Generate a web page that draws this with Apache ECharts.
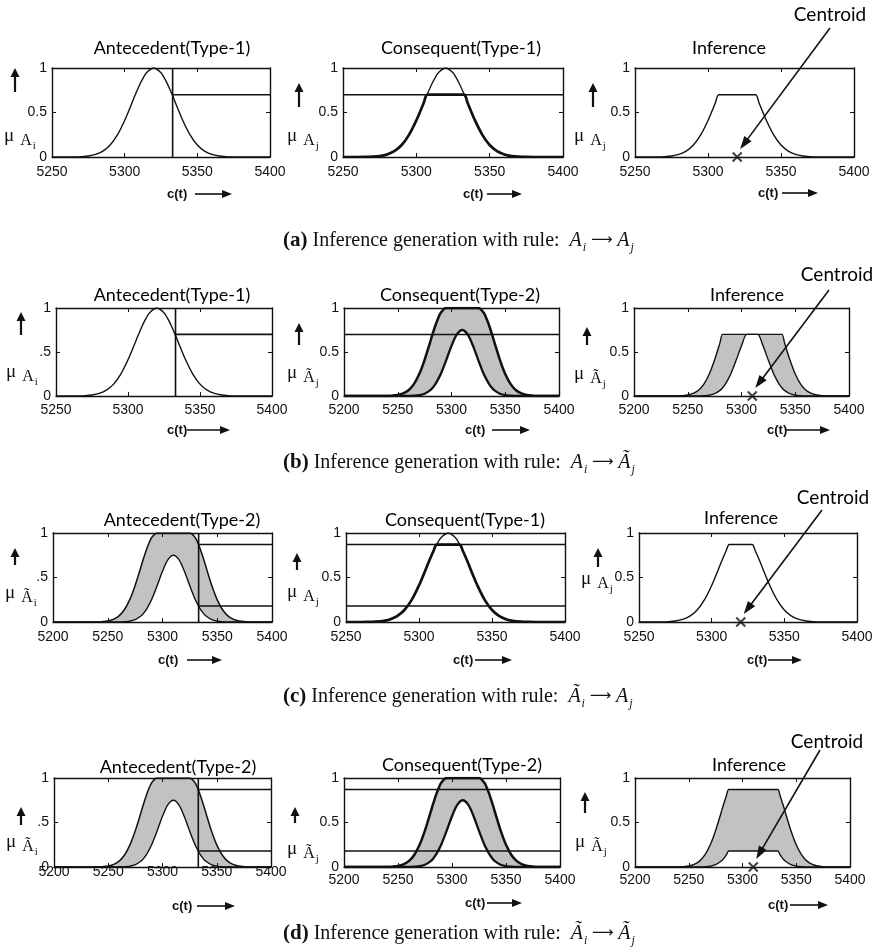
<!DOCTYPE html>
<html>
<head>
<meta charset="utf-8">
<script src="https://cdn.jsdelivr.net/npm/echarts@6.0.0/dist/echarts.min.js"></script>
<style>html,body{margin:0;padding:0;background:#fff;}#chart{width:878px;height:952px;}</style>
</head>
<body>
<div id="chart"></div>
<script>
// ===== values =====
// Type-1 Gaussian membership function (centre 5320)
const t1X  = [5250,5255,5260,5265,5270,5275,5280,5285,5290,5295,5300,5305,5307.3,5310,5312.1,5315,5320,5325,5327.9,5330,5332.7,5335,5340,5345,5350,5355,5360,5365,5370,5375,5380,5385,5390,5395,5400];
const t1Mu = [0,0,0,0.001,0.004,0.011,0.029,0.066,0.135,0.249,0.411,0.607,0.70,0.801,0.87,0.946,1,0.946,0.87,0.801,0.70,0.607,0.411,0.249,0.135,0.066,0.029,0.011,0.004,0.001,0,0,0,0,0];
// Interval type-2 membership function (upper / lower)
const t2X     = [5200,5205,5210,5215,5220,5225,5230,5235,5240,5245,5250,5255,5260,5265,5270,5275,5280,5282.3,5285,5287.1,5290,5295,5300,5305,5310,5315,5320,5325,5330,5332.9,5335,5337.7,5340,5345,5350,5355,5360,5365,5370,5375,5380,5385,5390,5395,5400];
const t2Upper = [0,0,0,0,0,0,0,0,0.001,0.004,0.011,0.029,0.066,0.135,0.249,0.411,0.607,0.70,0.801,0.87,0.946,1,1,1,1,1,1,1,0.946,0.87,0.801,0.70,0.607,0.411,0.249,0.135,0.066,0.029,0.011,0.004,0.001,0,0,0,0];
const t2Lower = [0,0,0,0,0,0,0,0,0,0,0,0,0,0.003,0.009,0.026,0.064,0.091,0.135,0.18,0.25,0.405,0.57,0.70,0.75,0.70,0.57,0.405,0.25,0.18,0.135,0.091,0.064,0.026,0.009,0.003,0,0,0,0,0,0,0,0,0];
// crisp input, firing strengths, centroids
const inputX = 5333;
const fireT1 = 0.7;
const fireUpper = 0.87;
const fireLower = 0.18;
const centroidX = [5320, 5310, 5320, 5310];
// tick labels
const xTickValues = [5200, 5250, 5300, 5350, 5400];
const xTickLabels = ['5200', '5250', '5300', '5350', '5400'];
const yTickValues = [0, 0.5, 1];
const yTickLabels = ['0', '0.5', '1'];
const yTickLabelsShort = ['0', '.5', '1'];
// texts
const panelTitles = ['Antecedent(Type-1)','Consequent(Type-1)','Inference',
                     'Antecedent(Type-1)','Consequent(Type-2)','Inference',
                     'Antecedent(Type-2)','Consequent(Type-1)','Inference',
                     'Antecedent(Type-2)','Consequent(Type-2)','Inference'];
const yVarBase = ['A','A','A','A','Ã','Ã','Ã','A','A','Ã','Ã','Ã'];
const yVarSub  = ['i','j','j','i','j','j','i','j','j','i','j','j'];
const captionTags = ['(a)','(b)','(c)','(d)'];
const captionText = 'Inference generation with rule:';
const ruleLhs = ['A','A','Ã','Ã'];
const ruleRhs = ['A','Ã','A','Ã'];
const centroidText = 'Centroid';
const xAxisText = 'c(t)';

// ===== layout =====
const panels = [
 {box:[52,68,218,89],  xmin:5250, kind:'antT1', half:'long',  xm:8},
 {box:[343,68,220,89], xmin:5250, kind:'conT1', levels:[fireT1], clip:fireT1, half:'long', xm:8},
 {box:[635,68,219,89], xmin:5250, kind:'infT1', clip:fireT1, cen:0, half:'long', xm:8},
 {box:[56,308,216,88], xmin:5250, kind:'antT1', half:'short', xm:7},
 {box:[344,308,215,88],xmin:5200, kind:'conT2', levels:[fireT1], half:'long', xm:7},
 {box:[634,308,215,88],xmin:5200, kind:'infT2', up:fireT1, lo:fireT1, cen:1, half:'long', xm:7},
 {box:[53,533,219,89], xmin:5200, kind:'antT2', half:'short', xm:8},
 {box:[346,533,219,89],xmin:5250, kind:'conT1', levels:[fireUpper,fireLower], clip:fireUpper, half:'long', xm:8},
 {box:[639,533,218,89],xmin:5250, kind:'infT1', clip:fireUpper, cen:2, half:'long', xm:8},
 {box:[54,778,217,89], xmin:5200, kind:'antT2', half:'short', xm:-2},
 {box:[344,778,216,89],xmin:5200, kind:'conT2', levels:[fireUpper,fireLower], half:'long', xm:6},
 {box:[635,778,215,89],xmin:5200, kind:'infT2', up:fireUpper, lo:fireLower, cen:3, half:'long', xm:6}
];
const titlePos = [[172,48],[461,48],[729,48],[172,295],[460,295],[747,295],[182,520],[465,520],[741,518],[178,767],[462,765],[749,765]];
// [arrowX, arrowTop, arrowBottom, muX, muY]
const yLabPos = [[15,68,92,4,137],[299,83,107,287,137],[593,83,107,574,137],[21,312,335,6,373],[299,323,345,287,374],[587,327,345,574,375],[15,548,565,5,594],[297,553,570,287,593],[598,548,567,581,580],[21,807,825,6,843],[295,807,823,287,850],[585,792,813,575,843]];
// [textX, y, arrowX1, arrowX2]
const ctPos = [[167,194,195,232],[463,194,487,522],[758,193,782,818],[167,430,187,230],[465,430,492,530],[767,430,785,830],[158,660,187,222],[453,660,475,512],[747,660,768,802],[172,906,197,235],[465,903,487,522],[768,905,790,828]];
// per row: text centre, arrow start
const centroidLayout = [{t:[830,15], s:[830,28]},{t:[837,275], s:[829,290]},{t:[833,498], s:[822,510]},{t:[827,742], s:[820,750]}];
const captionPos = [[283,242],[283,464],[283,698],[283,935]];

const INK = '#111';
const GRAY = '#c2c2c2';
const SANS = 'Liberation Sans';
const SERIF = 'Liberation Serif';
const TITLEF = 'Lato';

const pts = (xs, ys) => xs.map((x, i) => [x, ys[i]]);
const clipPts = (xs, ys, lv) => xs.map((x, i) => [x, Math.min(ys[i], lv)]);

const grids = [], xAxes = [], yAxes = [], series = [];
panels.forEach((p, g) => {
  const [l, t, w, h] = p.box;
  grids.push({left:l, top:t, width:w, height:h, show:false, containLabel:false, outerBoundsMode:'none'});
  const base = {gridIndex:g, z:6, type:'value', splitLine:{show:false},
    axisLine:{show:true, onZero:false, lineStyle:{color:INK, width:1.4}},
    axisTick:{show:true, inside:true, length:4, lineStyle:{color:INK, width:1}}};
  const xlab = {show:true, margin:p.xm, fontFamily:SANS, fontSize:14, color:INK,
    formatter: v => xTickLabels[xTickValues.indexOf(v)]};
  const ylabArr = p.half === 'short' ? yTickLabelsShort : yTickLabels;
  const ylab = {show:true, margin:5, fontFamily:SANS, fontSize:14, color:INK,
    formatter: v => ylabArr[yTickValues.indexOf(v)]};
  xAxes.push(Object.assign({}, base, {min:p.xmin, max:5400, interval:50, position:'bottom', axisLabel:xlab}));
  xAxes.push(Object.assign({}, base, {min:p.xmin, max:5400, interval:50, position:'top', axisLabel:{show:false}}));
  yAxes.push(Object.assign({}, base, {min:0, max:1, interval:0.5, position:'left', axisLabel:ylab}));
  yAxes.push(Object.assign({}, base, {min:0, max:1, interval:0.5, position:'right', axisLabel:{show:false}}));

  const ai = 2 * g;
  const curve = (data, width, extra) => series.push(Object.assign({type:'line', xAxisIndex:ai, yAxisIndex:ai,
    data, symbol:'none', showSymbol:false, smooth:0.3, silent:true, animation:false,
    lineStyle:{color:INK, width}}, extra || {}));
  const straight = (data, width) => curve(data, width, {smooth:false});
  const area = c => ({areaStyle:{color:c, opacity:1}});

  if (p.kind === 'antT1') {
    curve(pts(t1X, t1Mu), 1.4);
    straight([[inputX, 0], [inputX, 1]], 1.6);
    straight([[inputX, fireT1], [5400, fireT1]], 1.6);
  } else if (p.kind === 'conT1') {
    curve(pts(t1X, t1Mu), 1.3);
    curve(clipPts(t1X, t1Mu, p.clip), 2.7);
    p.levels.forEach(lv => straight([[p.xmin, lv], [5400, lv]], 1.5));
  } else if (p.kind === 'infT1') {
    curve(clipPts(t1X, t1Mu, p.clip), 1.4);
  } else if (p.kind === 'conT2') {
    curve(pts(t2X, t2Upper), 2.5, area(GRAY));
    curve(pts(t2X, t2Lower), 2.3, area('#ffffff'));
    p.levels.forEach(lv => straight([[p.xmin, lv], [5400, lv]], 1.5));
  } else if (p.kind === 'antT2') {
    curve(pts(t2X, t2Upper), 1.5, area(GRAY));
    curve(pts(t2X, t2Lower), 1.4, area('#ffffff'));
    straight([[inputX, 0], [inputX, 1]], 1.6);
    straight([[inputX, fireUpper], [5400, fireUpper]], 1.6);
    straight([[inputX, fireLower], [5400, fireLower]], 1.6);
  } else if (p.kind === 'infT2') {
    curve(clipPts(t2X, t2Upper, p.up), 1.4, area(GRAY));
    curve(clipPts(t2X, t2Lower, p.lo), 1.4, area('#ffffff'));
  }
  if (p.cen !== undefined) {
    series.push({type:'scatter', xAxisIndex:ai, yAxisIndex:ai, data:[[centroidX[p.cen], 0]],
      symbol:'path://M0,0L10,10M10,0L0,10', symbolSize:9, silent:true, animation:false, clip:false, z:8,
      itemStyle:{color:INK, borderColor:INK, borderWidth:2}});
  }
});

const chart = echarts.init(document.getElementById('chart'), null, {renderer:'canvas'});
chart.setOption({animation:false, backgroundColor:'#fff', grid:grids, xAxis:xAxes, yAxis:yAxes, series});

// ===== annotations =====
const gfx = [];
const txt = (x, y, text, style) => gfx.push({type:'text', x, y, silent:true, z:100,
  style:Object.assign({text, fill:INK, textAlign:'left', textVerticalAlign:'middle', align:'left', verticalAlign:'middle'}, style)});
const arrow = (x1, y1, x2, y2, w, hl, hw) => {
  const dx = x2 - x1, dy = y2 - y1, len = Math.hypot(dx, dy), ux = dx / len, uy = dy / len;
  const bx = x2 - ux * hl, by = y2 - uy * hl;
  gfx.push({type:'line', silent:true, z:100, shape:{x1, y1, x2:bx + ux, y2:by + uy}, style:{stroke:INK, lineWidth:w}});
  gfx.push({type:'polygon', silent:true, z:100, shape:{points:[[x2, y2], [bx - uy * hw, by + ux * hw], [bx + uy * hw, by - ux * hw]]}, style:{fill:INK}});
};

panels.forEach((p, g) => {
  const [tx, ty] = titlePos[g];
  txt(tx, ty, panelTitles[g], {fontFamily:TITLEF, fontSize:18, textAlign:'center', align:'center', fill:'#000'});
  const [axX, axT, axB, muX, muY] = yLabPos[g];
  arrow(axX, axB, axX, axT, 2.2, 9, 4.5);
  gfx.push({type:'text', x:muX, y:muY - 10, silent:true, z:100, style:{
    text:'{mu|μ}{a|' + yVarBase[g] + '}{s|' + yVarSub[g] + '}', fill:INK, textVerticalAlign:'top', verticalAlign:'top',
    rich:{
      mu:{fontFamily:SERIF, fontSize:19, verticalAlign:'top', fill:INK},
      a:{fontFamily:SERIF, fontSize:16, verticalAlign:'top', padding:[6,0,0,6], fill:INK},
      s:{fontFamily:SERIF, fontSize:11, verticalAlign:'top', padding:[14,0,0,1], fill:INK}
    }}});
  const [cx, cy, a1, a2] = ctPos[g];
  txt(cx, cy, xAxisText, {fontFamily:SANS, fontSize:13, fontWeight:'bold'});
  arrow(a1, cy, a2, cy, 1.6, 10, 4);
  if (p.cen !== undefined) {
    const px = chart.convertToPixel({xAxisIndex:2 * g, yAxisIndex:2 * g}, [centroidX[p.cen], 0]);
    const L = centroidLayout[p.cen];
    txt(L.t[0], L.t[1], centroidText, {fontFamily:TITLEF, fontSize:19, textAlign:'center', align:'center', fill:'#000'});
    arrow(L.s[0], L.s[1], px[0] + 3, px[1] - 8, 1.6, 13, 4.5);
  }
});

captionPos.forEach((c, r) => {
  gfx.push({type:'text', x:c[0], y:c[1], silent:true, z:100, style:{
    text:'{b|' + captionTags[r] + '}{n| ' + captionText + '  }{it|' + ruleLhs[r] + '}{sub|i}{ar| ⟶ }{it|' + ruleRhs[r] + '}{sub|j}',
    fill:INK, textVerticalAlign:'middle', verticalAlign:'middle',
    rich:{
      b:{fontFamily:SERIF, fontWeight:'bold', fontSize:21, verticalAlign:'top', fill:INK},
      n:{fontFamily:SERIF, fontSize:20, verticalAlign:'top', padding:[1,0,0,0], fill:INK},
      ar:{fontFamily:'DejaVu Sans', fontSize:15, verticalAlign:'top', padding:[3,0,0,0], fill:INK},
      it:{fontFamily:SERIF, fontStyle:'italic', fontSize:20, verticalAlign:'top', padding:[1,0,0,0], fill:INK},
      sub:{fontFamily:SERIF, fontStyle:'italic', fontSize:12, verticalAlign:'top', padding:[12,0,0,1], fill:INK}
    }}});
});

chart.setOption({graphic:{elements:gfx}});
</script>
</body>
</html>
